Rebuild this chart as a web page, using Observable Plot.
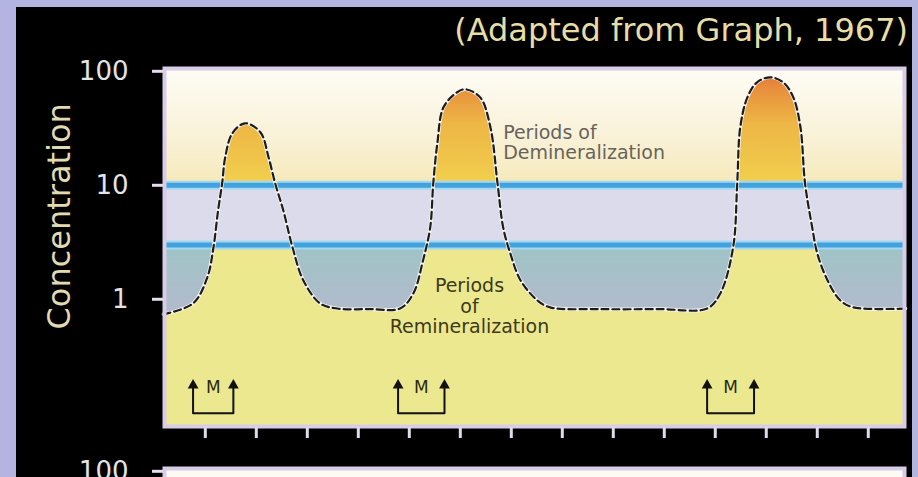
<!DOCTYPE html>
<html>
<head>
<meta charset="utf-8">
<script src="https://cdn.jsdelivr.net/npm/d3@7"></script>
<script src="https://cdn.jsdelivr.net/npm/@observablehq/plot@0.6"></script>
<style>
  html, body { margin: 0; padding: 0; width: 918px; height: 477px; overflow: hidden; background: #b4b4e2; }
  #panel { position: absolute; left: 16px; top: 7px; width: 896px; height: 520px; background: #000; }
  #title { position: absolute; right: 10px; top: 14px; font: 32px "DejaVu Sans"; line-height: 32px; color: #e6dea6; white-space: nowrap; }
  #chart { position: absolute; left: 0; top: 0; }
  #chart2 { position: absolute; left: 0; top: 447px; }
</style>
</head>
<body>
<div id="panel"></div>
<div id="title">(Adapted from Graph, 1967)</div>
<div id="chart"></div>
<div id="chart2"></div>
<script>
// ---- data ----
const curveX = [0.18,0.76,1.04,1.16,1.25,1.33,1.39,1.53,1.78,2.08,2.24,2.37,2.53,2.71,2.92,3.25,3.59,4.24,4.82,5.08,5.27,5.41,5.47,5.55,5.67,5.94,6.10,6.39,6.59,6.73,6.84,6.98,7.18,7.51,7.76,8.75,9.92,10.84,11.10,11.35,11.43,11.49,11.63,11.82,12.08,12.33,12.53,12.67,12.76,12.90,13.0,13.2,13.45,13.71,14.73];
const curveY = [0.74,0.92,1.56,2.86,6.0,10.4,17.6,28.6,35,29.2,17.6,10.4,6.0,2.86,1.47,0.92,0.83,0.82,0.83,1.13,2.2,4.28,10.4,23.4,48.3,65.5,69.5,59.1,32.3,10.4,4.28,2.53,1.47,0.98,0.85,0.82,0.82,0.83,1.13,2.86,10.4,32.3,59.1,80.1,88.6,80.1,59.1,32.3,10.4,4.28,2.53,1.47,0.98,0.85,0.83];
const thresholds = [3, 10];            // the two blue lines
const yTicks = [1, 10, 100];
const xTicks = [1,2,3,4,5,6,7,8,9,10,11,12,13,14];
const xDomain = [0.18, 14.73];
const yDomain = [0.075, 108];
const mLeft = [0.76, 4.78, 10.84];     // "M" markers: left arrow
const mRight = [1.55, 5.69, 11.76];    // "M" markers: right arrow
const mBase = 0.1, mTop = 0.176, mLabel = 0.169;
const demText = "Periods of\nDemineralization", demX = 6.84, demY = 23.6;
const remText = "Periods\nof\nRemineralization", remX = 6.18, remY = 0.87;
const axisTitle = "Concentration";

// ---- layout ----
const W = 918, H = 447, mT = 67, mB = 20, mL = 163, mR = 13;
const top10 = yDomain[1];

const curve = curveX.map((x, i) => ({x, y: curveY[i]}));
const brackets = mLeft.flatMap((L, i) => [
  {x: L, y: mTop, z: i}, {x: L, y: mBase, z: i}, {x: mRight[i], y: mBase, z: i}, {x: mRight[i], y: mTop, z: i}
]);
const tips = mLeft.flatMap((L, i) => [{x: L}, {x: mRight[i]}]);
const smooth = "catmull-rom";

const chart = Plot.plot({
  width: W, height: H,
  marginTop: mT, marginBottom: mB, marginLeft: mL, marginRight: mR,
  style: {background: "transparent", fontFamily: "DejaVu Sans", color: "#e8e8e8", overflow: "visible"},
  x: {domain: xDomain, axis: null},
  y: {type: "log", domain: yDomain, axis: null},
  marks: [
    Plot.frame({fill: "#ece78f"}),
    Plot.rect([0], {y1: () => thresholds[1], y2: () => top10, fill: "url(#creamGrad)"}),
    Plot.rect([0], {y1: () => yDomain[0], y2: () => thresholds[0], fill: "url(#tealGrad)"}),
    Plot.areaY(curve, {x: "x", y1: () => yDomain[0], y2: "y", curve: smooth, fill: "url(#peakGrad)"}),
    Plot.rect([0], {y1: () => thresholds[0], y2: () => thresholds[1], fill: "#dcdbec"}),
    Plot.ruleY(thresholds, {stroke: "#a4d8f2", strokeWidth: 9}),
    Plot.ruleY(thresholds, {stroke: "#42a2de", strokeWidth: 5}),
    Plot.line(curve, {x: "x", y: "y", curve: smooth, stroke: "#f6f4ee", strokeWidth: 3.6}),
    Plot.line(curve, {x: "x", y: "y", curve: smooth, stroke: "#1c1c1c", strokeWidth: 2.2, strokeDasharray: "7,4"}),
    Plot.text([demText], {x: () => demX, y: () => demY, text: d => d, textAnchor: "start",
      fontSize: 19, lineHeight: 1.06, lineAnchor: "middle", fill: "#67635c"}),
    Plot.text([remText], {x: () => remX, y: () => remY, text: d => d, textAnchor: "middle",
      fontSize: 19, lineHeight: 1.08, lineAnchor: "middle", fill: "#3c3a1a"}),
    Plot.line(brackets, {x: "x", y: "y", z: "z", stroke: "#111", strokeWidth: 2}),
    Plot.dot(tips, {x: "x", y: () => mTop, symbol: "triangle", r: 4, fill: "#111", stroke: null}),
    Plot.text(mLeft, {x: (d, i) => (d + mRight[i]) / 2, y: () => mLabel, text: () => "M", fontSize: 17, fill: "#2a2812"}),
    Plot.frame({stroke: "#d8cde8", strokeWidth: 4, inset: 1}),
    Plot.axisY({ticks: yTicks, tickFormat: d => String(d), tickSize: 11, tickPadding: 24,
      fontSize: 26, stroke: "#e6dcec", strokeWidth: 3, fill: "#e4e4e4", label: null}),
    Plot.axisX({ticks: xTicks, tickFormat: () => "", tickSize: 11, stroke: "#e2daec", strokeWidth: 3, label: null}),
    Plot.text([axisTitle], {frameAnchor: "left", text: d => d, rotate: -90, dx: -104, dy: 82,
      fontSize: 32, fill: "#e2dab0"})
  ]
});

// gradients (stops placed along the log value axis)
const frac = d3.scaleLog().domain(yDomain).range([0, 1]);
const defs = d3.select(chart).insert("defs", ":first-child");
function grad(id, stops) {
  const g = defs.append("linearGradient").attr("id", id).attr("gradientUnits", "userSpaceOnUse")
    .attr("x1", 0).attr("x2", 0).attr("y1", H - mB).attr("y2", mT);
  for (const [v, c] of stops) g.append("stop").attr("offset", frac(v)).attr("stop-color", c);
}
grad("peakGrad", [[yDomain[0], "#ece890"], [thresholds[0], "#ede88e"], [thresholds[1], "#f2d04e"], [35, "#edb645"], [70, "#e88f3d"], [top10, "#e6693a"]]);
grad("creamGrad", [[thresholds[1], "#f5e9b9"], [25, "#f9f1d6"], [60, "#fcf8ea"], [top10, "#fefcf5"]]);
grad("tealGrad", [[yDomain[0], "#b4bccc"], [1, "#aebccb"], [thresholds[0], "#9fc4c6"]]);
document.getElementById("chart").append(chart);

// second (cut-off) panel below
const chart2 = Plot.plot({
  width: W, height: 400,
  marginTop: 20, marginBottom: 20, marginLeft: mL, marginRight: mR,
  style: {background: "transparent", fontFamily: "DejaVu Sans", color: "#e8e8e8"},
  x: {domain: xDomain, axis: null},
  y: {type: "log", domain: yDomain, axis: null},
  marks: [
    Plot.frame({fill: "#fcfaf2", stroke: "#d8cde8", strokeWidth: 4, inset: 1}),
    Plot.axisY({ticks: [100], tickFormat: d => String(d), tickSize: 11, tickPadding: 24,
      fontSize: 26, stroke: "#e6dcec", strokeWidth: 3, fill: "#e4e4e4", label: null})
  ]
});
document.getElementById("chart2").append(chart2);
</script>
</body>
</html>
